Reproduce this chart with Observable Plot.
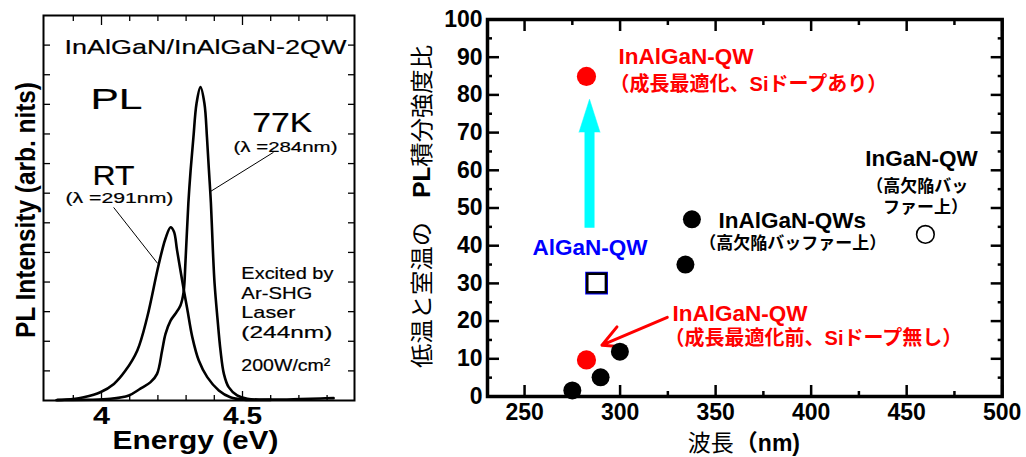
<!DOCTYPE html>
<html><head><meta charset="utf-8">
<script src="https://cdn.jsdelivr.net/npm/d3@7"></script>
<script src="https://cdn.jsdelivr.net/npm/@observablehq/plot@0.6"></script>
<style>
body{margin:0;background:#fff;}
#wrap{position:relative;width:1026px;height:457px;overflow:hidden;background:#fff;}
#left{position:absolute;left:0;top:0;}
#right{position:absolute;left:360px;top:0;}
</style></head><body>
<div id="wrap"><div id="left"></div><div id="right"></div></div>
<script>
// ===== Left panel: PL spectra (arb. units) =====
const rtEnergy    = [3.840, 3.900, 3.937, 3.996, 4.044, 4.085, 4.127, 4.162, 4.198, 4.215, 4.227, 4.245, 4.257, 4.268, 4.292, 4.304, 4.322, 4.345, 4.375, 4.416, 4.457, 4.505, 4.600];
const rtIntensity = [0.01, 0.05, 0.11, 0.28, 0.56, 1.01, 1.69, 2.81, 4.39, 5.07, 5.47, 5.85, 5.70, 5.07, 3.72, 3.10, 2.14, 1.35, 0.79, 0.34, 0.11, 0.03, 0.02];
const k77Energy    = [3.844, 4.032, 4.097, 4.138, 4.174, 4.197, 4.215, 4.227, 4.245, 4.262, 4.280, 4.291, 4.298, 4.308, 4.316, 4.326, 4.337, 4.351, 4.365, 4.374, 4.381, 4.388, 4.395, 4.401, 4.411, 4.422, 4.434, 4.451, 4.481, 4.517, 4.600, 4.706, 4.777, 4.823];
const k77Intensity = [0.02, 0.06, 0.17, 0.40, 0.62, 0.90, 1.69, 2.25, 2.70, 2.93, 3.21, 3.65, 4.73, 6.66, 7.77, 8.89, 10.03, 10.58, 10.03, 8.89, 7.77, 6.66, 5.07, 3.95, 2.80, 1.69, 0.90, 0.45, 0.17, 0.06, 0.03, 0.05, 0.07, 0.08];
const energyTickLabels = [4, 4.5];
const energyMinorTicks = [3.9, 4.1, 4.2, 4.3, 4.4, 4.6, 4.7, 4.8];
const intensityTicks = [1, 2, 3, 4, 5, 6, 7, 8, 9, 10, 11, 12];

// ===== Right panel: PL integrated intensity ratio vs wavelength =====
const blackWavelength = [275.0, 289.8, 299.9, 334.2, 337.6];
const blackRatio      = [1.6, 5.1, 11.9, 35.0, 47.0];
const redWavelength   = [282.4, 282.4];
const redRatio        = [9.7, 84.9];
const algaNWavelength = [287.7];
const algaNRatio      = [30.1];
const inganWavelength = [459.8];
const inganRatio      = [43.0];
const wavelengthTicks = [250, 300, 350, 400, 450, 500];
const wavelengthMinor = [275, 325, 375, 425, 475];
const ratioTicks = [0, 10, 20, 30, 40, 50, 60, 70, 80, 90, 100];
const ratioMinor = [5, 15, 25, 35, 45, 55, 65, 75, 85, 95];

const FONT = "'Liberation Sans', Arial, 'Noto Sans CJK JP', sans-serif";
const zip = (xs, ys) => xs.map((x, i) => ({x, y: ys[i]}));

// ---------- LEFT ----------
const leftTexts = [
  {t: "InAlGaN/InAlGaN-2QW", x: 3.869, y: 11.93, s: 21},
  {t: "PL", x: 3.961, y: 10.17, s: 30},
  {t: "77K", x: 4.535, y: 9.38, s: 28},
  {t: "(λ =284nm)", x: 4.468, y: 8.56, s: 14.5},
  {t: "RT", x: 3.968, y: 7.58, s: 27},
  {t: "(λ =291nm)", x: 3.872, y: 6.81, s: 14.5},
  {t: "Excited by", x: 4.496, y: 4.27, s: 17},
  {t: "Ar-SHG", x: 4.496, y: 3.60, s: 17},
  {t: "Laser", x: 4.496, y: 2.96, s: 17},
  {t: "(244nm)", x: 4.496, y: 2.31, s: 17},
  {t: "200W/cm²", x: 4.496, y: 1.18, s: 17}
];
const leftWidths = {
  "InAlGaN/InAlGaN-2QW": 282, "PL": 52, "77K": 60, "(λ =284nm)": 104, "RT": 42,
  "(λ =291nm)": 108, "Excited by": 92, "Ar-SHG": 71, "Laser": 54, "(244nm)": 91,
  "200W/cm²": 89, "Energy (eV)": 166, "4": 17, "4.5": 39, "PL Intensity (arb. nits)": 256
};

const left = Plot.plot({
  width: 360, height: 457,
  marginLeft: 43, marginRight: 6, marginTop: 15, marginBottom: 57,
  style: {fontFamily: FONT, background: "white", overflow: "visible", color: "black"},
  x: {domain: [3.7943, 4.8972], label: null},
  y: {domain: [0, 13], label: null},
  marks: [
    Plot.axisX(energyTickLabels, {anchor: "bottom", tickSize: -9, tickFormat: () => "", label: null, strokeWidth: 1.3}),
    Plot.axisX(energyMinorTicks, {anchor: "bottom", tickSize: -5, tickFormat: () => "", label: null, strokeWidth: 1.3}),
    Plot.axisX(energyTickLabels, {anchor: "top", tickSize: -9, tickFormat: () => "", label: null, strokeWidth: 1.3}),
    Plot.axisX(energyMinorTicks, {anchor: "top", tickSize: -5, tickFormat: () => "", label: null, strokeWidth: 1.3}),
    Plot.axisY(intensityTicks, {anchor: "left", tickSize: -7, tickFormat: () => "", label: null, strokeWidth: 1.3}),
    Plot.axisY(intensityTicks, {anchor: "right", tickSize: -7, tickFormat: () => "", label: null, strokeWidth: 1.3}),
    Plot.axisX(energyTickLabels, {anchor: "bottom", tickSize: 0, tickPadding: 6, tickFormat: d => String(d), label: null, fontSize: 24, fontWeight: "bold"}),
    Plot.line(zip(rtEnergy, rtIntensity), {x: "x", y: "y", curve: "catmull-rom", stroke: "black", strokeWidth: 2.6}),
    Plot.line(zip(k77Energy, k77Intensity), {x: "x", y: "y", curve: "catmull-rom", stroke: "black", strokeWidth: 2.6}),
    Plot.link([{x1: 4.610, y1: 8.38, x2: 4.387, y2: 7.06}, {x1: 4.043, y1: 6.52, x2: 4.199, y2: 4.63}],
      {x1: "x1", y1: "y1", x2: "x2", y2: "y2", stroke: "black", strokeWidth: 1}),
    ...leftTexts.map(d => Plot.text([d], {x: "x", y: "y", text: "t", fontSize: d.s, textAnchor: "start", lineAnchor: "middle", fill: "black", stroke: "black", strokeWidth: 0.2})),
    Plot.text(["Energy (eV)"], {text: d => d, frameAnchor: "bottom", textAnchor: "middle", lineAnchor: "middle", dx: -3.5, dy: 40, fontSize: 25, fontWeight: "bold", fill: "black"}),
    Plot.text(["PL Intensity (arb. nits)"], {text: d => d, frameAnchor: "left", textAnchor: "middle", lineAnchor: "middle", rotate: -90, dx: -17.5, dy: 2, fontSize: 28, fontWeight: "bold", fill: "black"}),
    Plot.frame({stroke: "black", strokeWidth: 2})
  ]
});
left.querySelectorAll("text").forEach(t => {
  const w = leftWidths[t.textContent];
  if (w) { t.setAttribute("textLength", w); t.setAttribute("lengthAdjust", "spacingAndGlyphs"); }
});
document.getElementById("left").appendChild(left);

// ---------- RIGHT ----------
const right = Plot.plot({
  width: 666, height: 457,
  marginLeft: 127, marginRight: 24.3, marginTop: 19, marginBottom: 61,
  style: {fontFamily: FONT, background: "white", overflow: "visible", color: "black"},
  x: {domain: [230.6, 500], label: null},
  y: {domain: [0, 100], label: null},
  marks: [
    Plot.axisX(wavelengthTicks, {anchor: "bottom", tickSize: -11, tickFormat: () => "", label: null, strokeWidth: 2.5}),
    Plot.axisX(wavelengthMinor, {anchor: "bottom", tickSize: -5, tickFormat: () => "", label: null, strokeWidth: 2.5}),
    Plot.axisX(wavelengthTicks, {anchor: "top", tickSize: -11, tickFormat: () => "", label: null, strokeWidth: 2.5}),
    Plot.axisX(wavelengthMinor, {anchor: "top", tickSize: -5, tickFormat: () => "", label: null, strokeWidth: 2.5}),
    Plot.axisY(ratioTicks, {anchor: "left", tickSize: -12, tickFormat: () => "", label: null, strokeWidth: 2.5}),
    Plot.axisY(ratioMinor, {anchor: "left", tickSize: -5, tickFormat: () => "", label: null, strokeWidth: 2.5}),
    Plot.axisY(ratioTicks, {anchor: "right", tickSize: -12, tickFormat: () => "", label: null, strokeWidth: 2.5}),
    Plot.axisY(ratioMinor, {anchor: "right", tickSize: -5, tickFormat: () => "", label: null, strokeWidth: 2.5}),
    Plot.axisX(wavelengthTicks, {anchor: "bottom", tickSize: 0, tickPadding: 7, tickFormat: d => String(d), label: null, fontSize: 23, fontWeight: "bold"}),
    Plot.axisY(ratioTicks, {anchor: "left", tickSize: 0, tickPadding: 5, tickFormat: d => String(d), label: null, fontSize: 23, fontWeight: "bold"}),
    // cyan arrow
    Plot.ruleX([{x: 284.0, y1: 44.6, y2: 70.6}], {x: "x", y1: "y1", y2: "y2", stroke: "#00ffff", strokeWidth: 10}),
    Plot.vector([{x: 284.0, y: 70.1}], {x: "x", y: "y", length: 33, rotate: 0, anchor: "start", shape: "spike", r: 10.5, fill: "#00ffff", stroke: "#00ffff", strokeWidth: 0.5}),
    // red arrow
    Plot.arrow([{x1: 324.7, y1: 21.0, x2: 290.5, y2: 13.6}], {x1: "x1", y1: "y1", x2: "x2", y2: "y2", stroke: "#ff0000", strokeWidth: 3, headLength: 14, headAngle: 55}),
    // points
    Plot.dot(zip(blackWavelength, blackRatio), {x: "x", y: "y", r: 9, fill: "black"}),
    Plot.dot(zip(redWavelength, redRatio), {x: "x", y: "y", r: 9.6, fill: "#ff0000"}),
    Plot.dot(zip(inganWavelength, inganRatio), {x: "x", y: "y", r: 8.8, fill: "white", stroke: "black", strokeWidth: 1.6}),
    Plot.dot(zip(algaNWavelength, algaNRatio), {x: "x", y: "y", symbol: "square", r: 12, fill: "white", stroke: "#0000ff", strokeWidth: 1.5}),
    Plot.dot(zip(algaNWavelength, algaNRatio), {x: "x", y: "y", symbol: "square", r: 10.5, fill: "white", stroke: "black", strokeWidth: 2.5}),
    // annotations
    Plot.text([{t: "InAlGaN-QW", x: 299.2, y: 90.2}, {t: "InAlGaN-QW", x: 327.4, y: 22.0}],
      {x: "x", y: "y", text: "t", textAnchor: "start", fontSize: 22.5, fontWeight: "bold", fill: "#ff0000"}),
    Plot.text([{t: "（成長最適化、Siドープあり）", x: 294.5, y: 82.8}, {t: "（成長最適化前、Siドープ無し）", x: 323.3, y: 15.4}],
      {x: "x", y: "y", text: "t", textAnchor: "start", fontSize: 20, fontWeight: "bold", fill: "#ff0000"}),
    Plot.text([{t: "InAlGaN-QWs", x: 351.5, y: 46.7}],
      {x: "x", y: "y", text: "t", textAnchor: "start", fontSize: 22.5, fontWeight: "bold", fill: "black"}),
    Plot.text([{t: "（高欠陥バッファー上）", x: 341.4, y: 40.6}, {t: "（高欠陥バッ", x: 428.8, y: 55.7}, {t: "ファー上）", x: 437.6, y: 50.1}],
      {x: "x", y: "y", text: "t", textAnchor: "start", fontSize: 17, fontWeight: "bold", fill: "black"}),
    Plot.text([{t: "InGaN-QW", x: 457.7, y: 63.1}],
      {x: "x", y: "y", text: "t", textAnchor: "middle", fontSize: 22.5, fontWeight: "bold", fill: "black"}),
    Plot.text([{t: "AlGaN-QW", x: 284.3, y: 39.5}],
      {x: "x", y: "y", text: "t", textAnchor: "middle", fontSize: 22.5, fontWeight: "bold", fill: "#0000ff"}),
    // axis labels
    Plot.text(["波長"], {text: d => d, frameAnchor: "bottom", textAnchor: "start", lineAnchor: "middle", dx: -57, dy: 47, fontSize: 23, fill: "black"}),
    Plot.text(["（nm)"], {text: d => d, frameAnchor: "bottom", textAnchor: "start", lineAnchor: "middle", dx: -10, dy: 47, fontSize: 23, fontWeight: "bold", fill: "black"}),
    Plot.text(["低温と室温の　PL積分強度比"], {text: d => d, frameAnchor: "left", textAnchor: "middle", lineAnchor: "middle", rotate: -90, dx: -65, dy: -1.5, fontSize: 23, fill: "black"}),
    Plot.frame({stroke: "black", strokeWidth: 3.5})
  ]
});
right.querySelectorAll("text").forEach(t => {
  if (t.textContent === "低温と室温の　PL積分強度比") {
    t.textContent = "";
    [["低温と室温の　", "normal"], ["PL", "bold"], ["積分強度比", "normal"]].forEach(([s, w]) => {
      const ts = document.createElementNS("http://www.w3.org/2000/svg", "tspan");
      ts.textContent = s; ts.setAttribute("font-weight", w); t.appendChild(ts);
    });
    t.setAttribute("textLength", 323); t.setAttribute("lengthAdjust", "spacingAndGlyphs");
  }
});
document.getElementById("right").appendChild(right);
</script>
</body></html>
